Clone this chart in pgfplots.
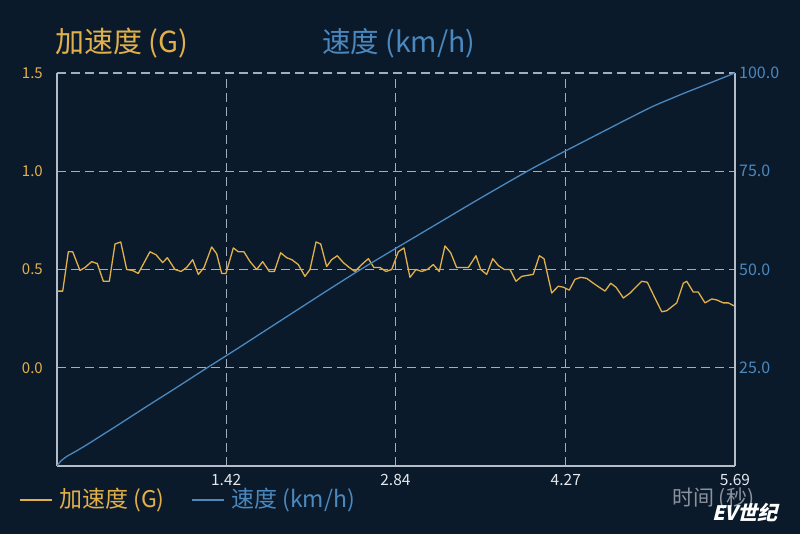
\documentclass[border=0pt]{standalone}
\usepackage{pgfplots}
\pgfplotsset{compat=1.18}
\usepackage{pgfplotstable}
\usepackage{fontspec}
\setmainfont{Noto Sans CJK SC}
\newfontfamily\wmfont[FakeSlant=0.25]{Noto Sans CJK SC}

\definecolor{bgc}{HTML}{0B1A2B}
\definecolor{accc}{HTML}{E2B04A}
\definecolor{spdc}{HTML}{4A88BE}
\definecolor{gridc}{HTML}{A3AEBA}
\definecolor{axisc}{HTML}{B4BDC7}
\definecolor{xlabc}{HTML}{E4E8EC}
\definecolor{grayc}{HTML}{8A939D}

% acceleration (G) vs time (s)
\pgfplotstableread{
t a
0.000 0.39
0.048 0.39
0.095 0.59
0.132 0.59
0.193 0.495
0.235 0.51
0.291 0.54
0.338 0.53
0.389 0.44
0.439 0.44
0.487 0.63
0.535 0.64
0.585 0.50
0.635 0.495
0.682 0.48
0.780 0.59
0.831 0.575
0.887 0.535
0.926 0.56
0.990 0.50
1.041 0.49
1.088 0.51
1.139 0.55
1.186 0.475
1.234 0.51
1.298 0.615
1.340 0.58
1.382 0.48
1.418 0.48
1.480 0.61
1.522 0.59
1.569 0.59
1.620 0.54
1.676 0.50
1.726 0.54
1.782 0.49
1.824 0.49
1.877 0.585
1.928 0.56
1.970 0.55
2.025 0.525
2.081 0.465
2.123 0.50
2.174 0.64
2.213 0.63
2.263 0.515
2.305 0.55
2.352 0.57
2.403 0.535
2.453 0.51
2.501 0.49
2.557 0.525
2.613 0.555
2.660 0.51
2.711 0.51
2.761 0.49
2.809 0.50
2.864 0.59
2.912 0.61
2.962 0.46
3.013 0.50
3.061 0.49
3.108 0.50
3.158 0.525
3.208 0.49
3.256 0.62
3.304 0.585
3.354 0.51
3.405 0.51
3.452 0.51
3.516 0.57
3.556 0.50
3.606 0.475
3.657 0.555
3.704 0.52
3.754 0.50
3.802 0.50
3.852 0.44
3.900 0.465
3.947 0.47
3.997 0.475
4.048 0.57
4.087 0.555
4.152 0.38
4.207 0.415
4.249 0.41
4.299 0.395
4.347 0.45
4.395 0.46
4.445 0.455
4.501 0.43
4.599 0.39
4.647 0.43
4.691 0.41
4.753 0.355
4.809 0.38
4.907 0.44
4.954 0.435
5.010 0.365
5.075 0.285
5.117 0.29
5.201 0.33
5.256 0.43
5.285 0.44
5.340 0.385
5.382 0.385
5.438 0.33
5.495 0.35
5.537 0.345
5.592 0.33
5.634 0.33
5.682 0.315
}\acctable

% speed (km/h) vs time (s)
\pgfplotstableread{
t v
0.00 0.0
0.03 1.2
0.08 2.4
0.15 3.6
0.25 5.4
0.50 10.2
0.75 15.1
1.00 19.9
1.25 24.8
1.50 29.6
1.75 34.5
2.00 39.4
2.25 44.3
2.50 49.1
2.75 53.7
3.00 58.2
3.25 62.7
3.50 67.2
3.75 71.6
4.00 75.9
4.25 79.9
4.50 83.8
4.75 87.7
5.00 91.5
5.25 94.7
5.50 97.7
5.69 100.0
}\spdtable

\begin{document}
\begin{tikzpicture}
\useasboundingbox (0,0) rectangle (800pt,534pt);
\fill[bgc] (0,0) rectangle (800pt,534pt);

\begin{axis}[
    at={(57pt,68pt)}, anchor=south west,
    width=678pt, height=393pt, scale only axis,
    xmin=0, xmax=5.69, ymin=-0.5, ymax=1.5,
    axis x line*=bottom, axis y line*=left,
    axis line style={draw=axisc, line width=1.2pt, -},
    xtick={1.42,2.84,4.27,5.69},
    xticklabels={1.42,2.84,4.27,5.69},
    ytick={0,0.5,1,1.5},
    yticklabels={0.0,0.5,1.0,1.5},
    major tick length=0pt,
    /pgf/number format/assume math mode=true,
    grid=major,
    major grid style={draw=gridc, line width=1.1pt, dash pattern=on 9pt off 5pt},
    xticklabel style={font=\fontsize{15.5}{16}\selectfont, text=xlabc, anchor=north, inner sep=0pt, yshift=-8pt},
    yticklabel style={font=\fontsize{15}{16}\selectfont, text=accc, anchor=east, inner sep=0pt, xshift=-14pt},
  ]
  \addplot[accc, line width=1.3pt, line join=round] table[x=t, y=a] {\acctable};
\end{axis}

\begin{axis}[
    at={(57pt,68pt)}, anchor=south west,
    width=678pt, height=393pt, scale only axis,
    xmin=0, xmax=5.69, ymin=0, ymax=100,
    axis x line=none, axis y line*=right,
    axis line style={draw=axisc, line width=1.2pt, -},
    ytick={25,50,75,100},
    yticklabels={25.0,50.0,75.0,100.0},
    major tick length=0pt,
    /pgf/number format/assume math mode=true,
    yticklabel style={font=\fontsize{16}{16}\selectfont, text=spdc, anchor=west, inner sep=0pt, xshift=4pt},
  ]
  \addplot[spdc, line width=1.3pt, line join=round, smooth, tension=0.3] table[x=t, y=v] {\spdtable};
\end{axis}

% axis titles
\node[anchor=west, inner sep=0pt, text=accc, font=\fontsize{29}{32}\selectfont] at (55pt,491pt) {加速度 (G)};
\node[anchor=west, inner sep=0pt, text=spdc, font=\fontsize{28.5}{32}\selectfont] at (322pt,491pt) {速度 (km/h)};

% legend
\draw[accc, line width=1.4pt] (20pt,34pt) -- (52pt,34pt);
\node[anchor=west, inner sep=0pt, text=accc, font=\fontsize{23}{25}\selectfont] at (59pt,34pt) {加速度 (G)};
\draw[spdc, line width=1.4pt] (192pt,34pt) -- (224pt,34pt);
\node[anchor=west, inner sep=0pt, text=spdc, font=\fontsize{23}{25}\selectfont] at (231pt,34pt) {速度 (km/h)};

% x axis caption and watermark
\node[anchor=west, inner sep=0pt, text=grayc, font=\fontsize{21}{24}\selectfont] at (672pt,35pt) {时间 (秒)};
\node[anchor=west, inner sep=0pt, text=white, font=\wmfont\fontsize{20}{22}\selectfont\bfseries] at (712pt,21pt) {EV世纪};
\end{tikzpicture}
\end{document}
